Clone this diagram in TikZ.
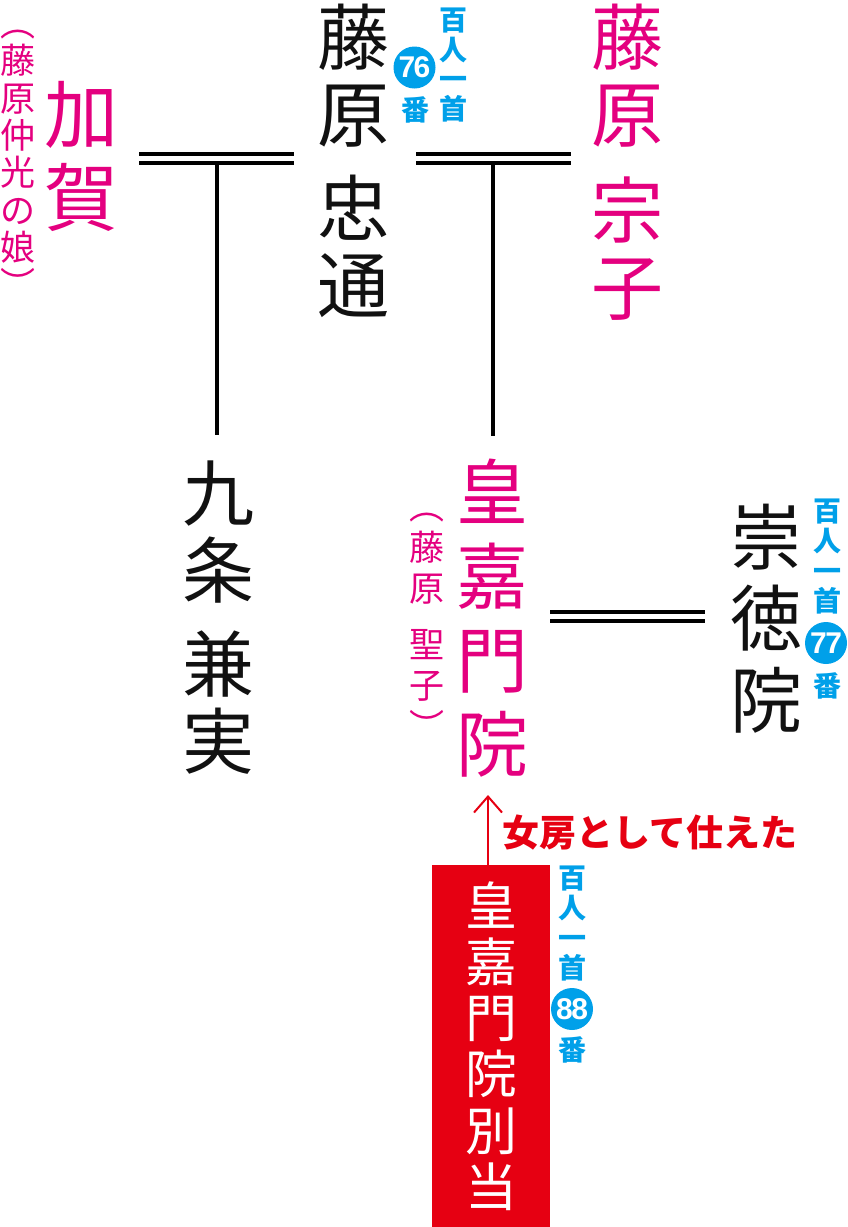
\documentclass[tikz,border=0pt]{standalone}
\usepackage{fontspec}
\newfontfamily\cjk{Noto Sans CJK JP}
\newfontfamily\numf{Liberation Sans}
\usetikzlibrary{arrows.meta}
\definecolor{pinkc}{HTML}{E4007F}
\definecolor{bluec}{HTML}{00A0E9}
\definecolor{redc}{HTML}{E60012}
\definecolor{inkc}{HTML}{111111}
\begin{document}
\begin{tikzpicture}[x=1pt,y=-1pt,
  vt/.style={inner sep=0pt, outer sep=0pt, align=center},
  vfont/.style 2 args={font=\cjk\fontsize{#1}{#2}\selectfont},
  bfont/.style 2 args={font=\cjk\bfseries\fontsize{#1}{#2}\selectfont},
  hyaku/.style={vt, text=bluec, bfont={28}{29.7}},
  numc/.style={circle, fill=bluec, minimum size=42pt, inner sep=0pt, text=white,
    font=\numf\bfseries\fontsize{30}{30}\selectfont},
  marriage/.style={draw=black, line width=4pt, double=white, double distance=5pt},
  childline/.style={draw=black, line width=4pt},
  servearrow/.style={draw=redc, line width=2pt, -{Straight Barb[length=16pt,width=28pt,line width=2pt]}}
]
\useasboundingbox (0,0) rectangle (847,1227);

% persons
\node[vt, text=inkc, vfont={72}{77}] (tadamichi) at (353,161) {藤\\原\\[17pt]忠\\通};
\node[vt, text=pinkc, vfont={72}{77}] (muneko) at (627,162.5) {藤\\原\\[19pt]宗\\子};
\node[vt, text=pinkc, vfont={74}{83}] (kaga) at (82,156) {加\\賀};
\node[vt, text=pinkc, vfont={35}{37.3}] (kaganote) at (18,164) {︵\\藤\\原\\仲\\光\\の\\娘\\︶};
\node[vt, text=inkc, vfont={72}{77}] (kanezane) at (218,617.5) {九\\条\\[17pt]兼\\実};
\node[vt, text=pinkc, vfont={72}{84}] (kokamon) at (492,618.5) {皇\\嘉\\門\\院};
\node[vt, text=pinkc, vfont={35}{41}] (seiko) at (427,626) {︵\\藤\\原\\[15pt]聖\\子\\︶};
\node[vt, text=inkc, vfont={72}{81.5}] (sutoku) at (766,618.5) {崇\\徳\\院};

% hyakunin isshu labels
\node[hyaku] (h76) at (453,65) {百\\人\\一\\首};
\node[numc] (n76) at (414.5,67.5) {7\kern-1.5pt 6};
\node[hyaku] (b76) at (415,110) {番};
\node[hyaku] (h77) at (827,556.5) {百\\人\\一\\首};
\node[numc] (n77) at (826,643) {7\kern-1.5pt 7};
\node[hyaku] (b77) at (827,686) {番};
\node[hyaku] (h88) at (572,923.5) {百\\人\\一\\首};
\node[numc] (n88) at (572,1009) {8\kern-1.5pt 8};
\node[hyaku] (b88) at (572,1050) {番};

% red box
\node[vt, fill=redc, minimum width=118pt, minimum height=362pt, text=white, vfont={52}{56.3}] (bettou) at (491,1046) {皇\\嘉\\門\\院\\別\\当};
\node[vt, text=redc, bfont={37}{37}] (role) at (650,833) {女房として仕えた};

% connectors
\coordinate (m1L) at (139,158.5);
\coordinate (m1R) at (294,158.5);
\coordinate (c1) at (217,435);
\coordinate (m2L) at (416,158.5);
\coordinate (m2R) at (571,158.5);
\coordinate (c2) at (492.5,436);
\coordinate (m3L) at (550,616.5);
\coordinate (m3R) at (705,616.5);
\coordinate (arrtip) at (488,795);

\draw[childline] (c1 |- m1L) -- (c1);
\draw[childline] (c2 |- m2L) -- (c2);
\draw[marriage] (m1L) -- (m1R);
\draw[marriage] (m2L) -- (m2R);
\draw[marriage] (m3L) -- (m3R);
\draw[servearrow] (bettou.north -| arrtip) -- (arrtip);
\end{tikzpicture}
\end{document}
